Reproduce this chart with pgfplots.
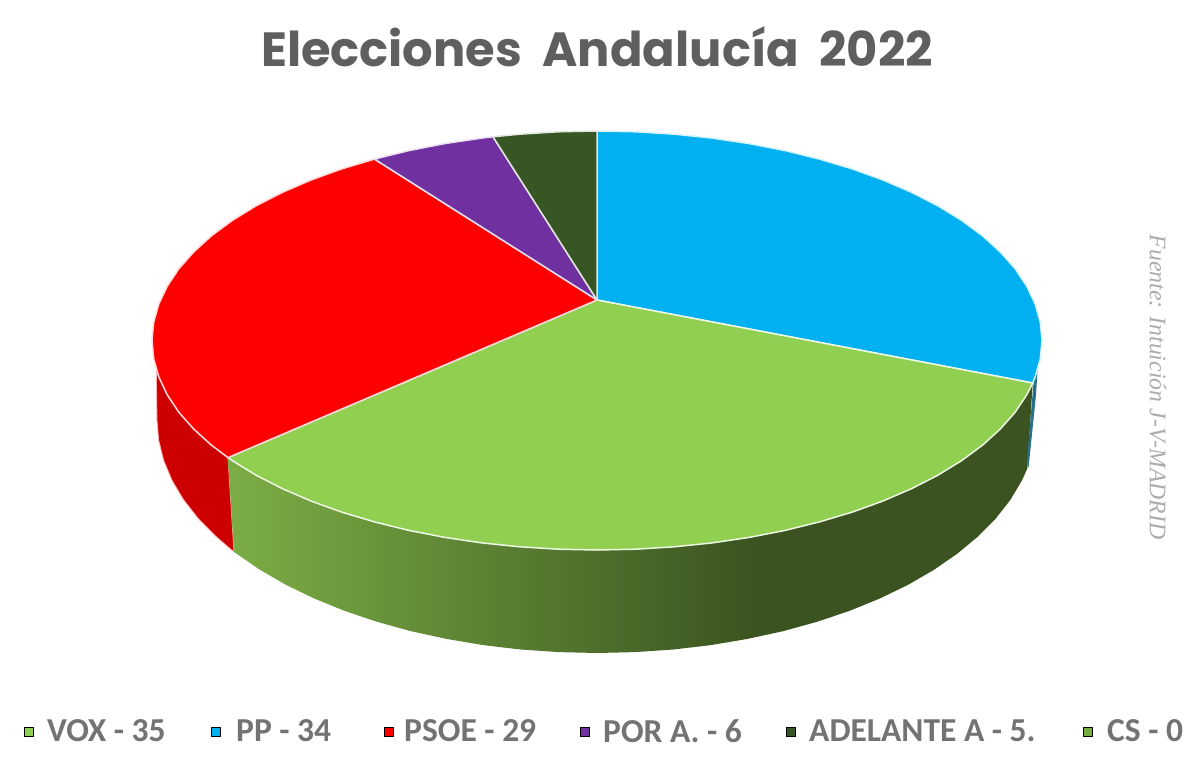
\documentclass[border=0pt]{standalone}
\usepackage{fontspec}
\usepackage{pgfplots}
\pgfplotsset{compat=1.18}
\newfontfamily\titlefont{Poppins}
\newfontfamily\legfont{Carlito}
\newfontfamily\srcfont{Liberation Serif}
\definecolor{ppc}{HTML}{00B0F0}
\definecolor{voxc}{HTML}{90CF50}
\definecolor{psoec}{HTML}{FF0000}
\definecolor{porc}{HTML}{7030A0}
\definecolor{adec}{HTML}{375623}
\definecolor{psoes}{HTML}{CC0000}
\definecolor{rimA}{HTML}{7CAD45}
\definecolor{rimB}{HTML}{3A5320}
\definecolor{txt}{HTML}{5F5F5F}
\definecolor{leg}{HTML}{737373}
\definecolor{src}{HTML}{ABABAB}
\definecolor{sliver}{HTML}{26708C}
\pgfdeclarehorizontalshading{greenrim}{100bp}{color(0bp)=(rimA); color(25bp)=(rimA); color(58bp)=(rimB); color(100bp)=(rimB)}
\begin{document}
\begin{tikzpicture}
\path[use as bounding box] (0,0) rectangle (1200bp,772bp);
\begin{axis}[
  at={(0,0)}, anchor=south west,
  width=1200bp, height=772bp, scale only axis,
  xmin=0, xmax=1200, ymin=0, ymax=772, y dir=reverse,
  hide axis, clip=false,
  seam/.style={draw=white!85!#1, line width=1.5bp, line join=round},
]
% side walls
\addplot[fill=psoes, draw=white!70!red, line width=0.8bp, line join=round] coordinates {
(156.3,369.7)(158.8,376.9)(167.2,394.7)(178.8,412.2)(193.7,429)(211.6,445.3)(228,457.6)(234,552)
(216,536.5)(198.2,518.5)(183.5,499.7)(172,480.3)(163.7,460.5)(158.7,440.3)(157,420)
} -- cycle;
\addplot[shading=greenrim, draw=none] coordinates {
(228,457.6)(232.5,460.7)(256.1,475.2)(282.3,488.6)(311,501)(341.7,512.1)(374.5,521.9)(408.9,530.4)
(444.8,537.4)(481.8,542.9)(519.7,546.8)(558.2,549.2)(597,550)(635.8,549.2)(674.3,546.8)(712.2,542.9)
(749.2,537.4)(785.1,530.4)(819.5,521.9)(852.3,512.1)(883,501)(911.7,488.6)(937.9,475.2)(961.5,460.7)
(982.4,445.3)(1000.3,429)(1015.2,412.2)(1026.8,394.7)(1032.7,383)
(1027.4,468.4)(1022,480.3)(1010.5,499.7)(995.8,518.5)(978,536.5)(957.4,553.6)(934,569.8)(908.1,584.8)
(879.8,598.5)(849.4,610.9)(817,621.8)(783,631.2)(747.5,638.9)(710.9,645.1)(673.4,649.5)(635.3,652.1)
(597,653)(558.7,652.1)(520.6,649.5)(483.1,645.1)(446.5,638.9)(411,631.2)(377,621.8)(344.6,610.9)
(314.2,598.5)(285.9,584.8)(260,569.8)(234,552)
} -- cycle;
\addplot[fill=sliver, draw=none] coordinates {(1033.5,383)(1037.8,367)(1036,395)(1028.5,468)(1027,462)} -- cycle;
% top slices
\addplot[fill=ppc, seam=ppc] coordinates {
(597,300)(597,131)(635.8,131.8)(674.3,134.2)(712.2,138.1)(749.2,143.6)(785.1,150.6)(819.5,159.1)(852.3,168.9)
(883,180)(911.7,192.4)(937.9,205.8)(961.5,220.3)(982.4,235.7)(1000.3,252)(1015.2,268.8)(1026.8,286.3)
(1035.2,304.1)(1040.3,322.2)(1042,340.5)(1040.3,358.8)(1035.2,376.9)(1032.7,383)
} -- cycle;
\addplot[fill=voxc, seam=voxc] coordinates {
(597,300)(1032.7,383)(1026.8,394.7)(1015.2,412.2)(1000.3,429)(982.4,445.3)(961.5,460.7)(937.9,475.2)(911.7,488.6)
(883,501)(852.3,512.1)(819.5,521.9)(785.1,530.4)(749.2,537.4)(712.2,542.9)(674.3,546.8)(635.8,549.2)(597,550)
(558.2,549.2)(519.7,546.8)(481.8,542.9)(444.8,537.4)(408.9,530.4)(374.5,521.9)(341.7,512.1)(311,501)(282.3,488.6)
(256.1,475.2)(232.5,460.7)(228,457.6)
} -- cycle;
\addplot[fill=psoec, seam=psoec] coordinates {
(597,300)(228,457.6)(211.6,445.3)(193.7,429)(178.8,412.2)(167.2,394.7)(158.8,376.9)(153.7,358.8)(152,340.5)
(153.7,322.2)(158.8,304.1)(167.2,286.3)(178.8,268.8)(193.7,252)(211.6,235.7)(232.5,220.3)(256.1,205.8)(282.3,192.4)
(311,180)(341.7,168.9)(374.5,159.1)
} -- cycle;
\addplot[fill=porc, seam=porc] coordinates {
(597,300)(374.5,159.1)(408.9,150.6)(444.8,143.6)(481.8,138.1)(493,136.8)
} -- cycle;
\addplot[fill=adec, seam=adec] coordinates {
(597,300)(493,136.8)(519.7,134.2)(558.2,131.8)(597,131)
} -- cycle;
% legend keys
\addplot[only marks, mark=square*, mark size=4.5bp, mark options={draw=none, fill=voxc}] coordinates {(29,732)};
\addplot[only marks, mark=square*, mark size=4.5bp, mark options={draw=none, fill=ppc}] coordinates {(216,732)};
\addplot[only marks, mark=square*, mark size=4.5bp, mark options={draw=none, fill=psoec}] coordinates {(389,732)};
\addplot[only marks, mark=square*, mark size=4.5bp, mark options={draw=none, fill=porc}] coordinates {(585,732)};
\addplot[only marks, mark=square*, mark size=4.5bp, mark options={draw=none, fill=adec}] coordinates {(791,732)};
\addplot[only marks, mark=square*, mark size=4.5bp, mark options={draw=none, fill=voxc!70!adec}] coordinates {(1088,732)};
% texts
\node[anchor=center, text=txt, inner sep=0pt] at (axis cs:597,47) {\fontsize{48bp}{54bp}\titlefont\bfseries Elecciones\ \ Andalucía\ \ 2022};
\node[anchor=west, text=leg, inner sep=0pt] at (axis cs:47,731) {\fontsize{33.5bp}{36bp}\legfont\bfseries VOX - 35};
\node[anchor=west, text=leg, inner sep=0pt] at (axis cs:236,731) {\fontsize{33.5bp}{36bp}\legfont\bfseries PP - 34};
\node[anchor=west, text=leg, inner sep=0pt] at (axis cs:404,731) {\fontsize{33.5bp}{36bp}\legfont\bfseries PSOE - 29};
\node[anchor=west, text=leg, inner sep=0pt] at (axis cs:603,731) {\fontsize{33.5bp}{36bp}\legfont\bfseries POR A. - 6};
\node[anchor=west, text=leg, inner sep=0pt] at (axis cs:809,731) {\fontsize{33.5bp}{36bp}\legfont\bfseries ADELANTE A - 5.};
\node[anchor=west, text=leg, inner sep=0pt] at (axis cs:1107,731) {\fontsize{33.5bp}{36bp}\legfont\bfseries CS - 0};
\node[anchor=center, rotate=-90, text=src, inner sep=0pt] at (axis cs:1158,387) {\fontsize{23.8bp}{28bp}\srcfont\itshape Fuente: Intuición J-V-MADRID};
\end{axis}
\end{tikzpicture}
\end{document}
